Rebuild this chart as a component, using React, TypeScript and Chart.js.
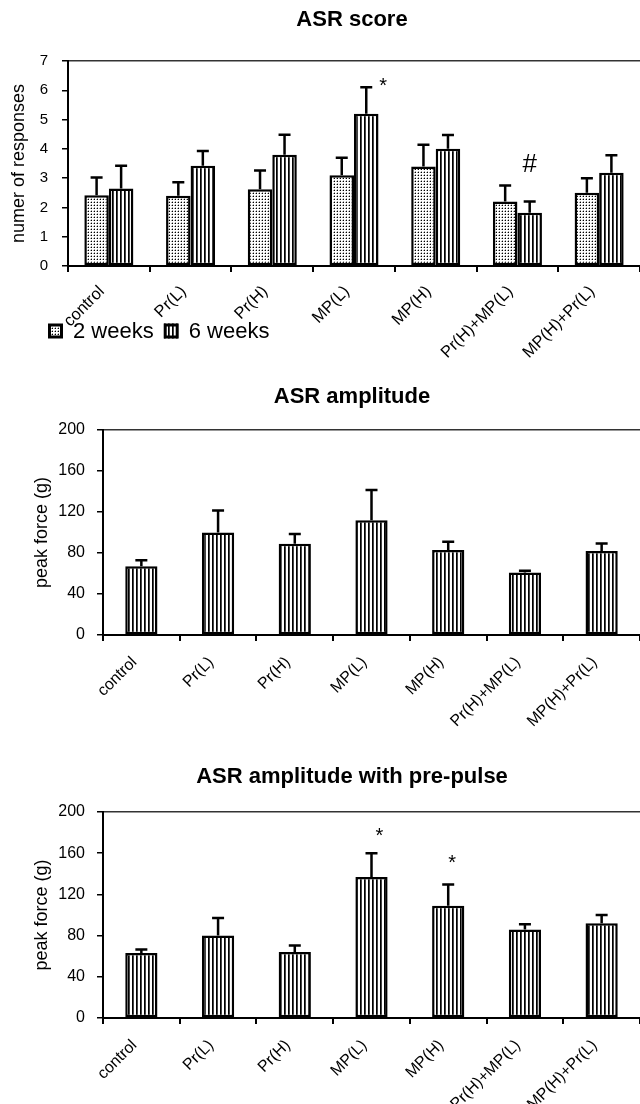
import React, { useEffect, useRef } from 'react';
import { Chart, registerables } from 'chart.js';

Chart.register(...registerables);

// ---------- data ----------
const categories = ['control', 'Pr(L)', 'Pr(H)', 'MP(L)', 'MP(H)', 'Pr(H)+MP(L)', 'MP(H)+Pr(L)'];

const scoreTitle = 'ASR score';
const scoreAxisTitle = 'numer of responses';
const scoreSeriesNames = ['2 weeks', '6 weeks'];
const score2w = [2.42, 2.4, 2.62, 3.1, 3.4, 2.2, 2.5];
const score2wErr = [0.6, 0.46, 0.64, 0.6, 0.74, 0.55, 0.5];
const score6w = [2.65, 3.42, 3.8, 5.2, 4.0, 1.82, 3.18];
const score6wErr = [0.77, 0.51, 0.68, 0.9, 0.47, 0.38, 0.6];
const score6wMarks = ['', '', '', '*', '', '#', ''];
const scoreMax = 7;
const scoreStep = 1;

const ampTitle = 'ASR amplitude';
const ampValues = [67, 100, 89, 112, 83, 61, 82];
const ampErr = [6, 21.5, 9.5, 29.5, 8, 1.8, 7.2];

const ppTitle = 'ASR amplitude with pre-pulse';
const ppValues = [63, 80, 64, 137, 109, 86, 92];
const ppErr = [3.5, 17, 6.5, 23, 20.5, 5, 8];
const ppMarks = ['', '', '', '*', '*', '', ''];

const forceAxisTitle = 'peak force (g)';
const forceMax = 200;
const forceStep = 40;

const FONT = "'Liberation Sans', Arial, sans-serif";
Chart.defaults.font.family = FONT;
Chart.defaults.color = '#000';

// ---------- patterns ----------
function makeDots(): CanvasPattern {
  const c = document.createElement('canvas');
  c.width = 3;
  c.height = 3;
  const g = c.getContext('2d')!;
  g.fillStyle = '#fff';
  g.fillRect(0, 0, 3, 3);
  g.fillStyle = '#000';
  g.fillRect(1, 1, 1, 1);
  g.fillStyle = '#aaa';
  g.fillRect(0, 1, 1, 1);
  g.fillRect(1, 0, 1, 1);
  return g.createPattern(c, 'repeat')!;
}

function makeStripes(): CanvasPattern {
  const c = document.createElement('canvas');
  c.width = 4;
  c.height = 1;
  const g = c.getContext('2d')!;
  g.fillStyle = '#fff';
  g.fillRect(0, 0, 4, 1);
  g.fillStyle = '#000';
  g.fillRect(0, 0, 1, 1);
  g.fillStyle = '#444';
  g.fillRect(1, 0, 1, 1);
  return g.createPattern(c, 'repeat')!;
}

// ---------- plugins ----------
const panelTitlePlugin = {
  id: 'panelTitle',
  afterDraw(chart: any, _a: any, opts: any) {
    const { ctx } = chart;
    ctx.save();
    ctx.font = `bold ${opts.size}px ${FONT}`;
    ctx.fillStyle = '#000';
    ctx.textAlign = 'center';
    ctx.textBaseline = 'middle';
    ctx.fillText(opts.text, opts.x, opts.y);
    ctx.restore();
  },
};

const errorBarPlugin = {
  id: 'errorBars',
  afterDatasetsDraw(chart: any, _a: any, opts: any) {
    const { ctx } = chart;
    const yScale = chart.scales.y;
    chart.data.datasets.forEach((ds: any, di: number) => {
      const meta = chart.getDatasetMeta(di);
      meta.data.forEach((bar: any, i: number) => {
        const v = ds.data[i];
        const e = ds.errors ? ds.errors[i] : 0;
        const top = yScale.getPixelForValue(v + e);
        ctx.save();
        ctx.strokeStyle = '#000';
        ctx.lineWidth = opts.lineWidth;
        ctx.beginPath();
        ctx.moveTo(bar.x, bar.y);
        ctx.lineTo(bar.x, top);
        ctx.moveTo(bar.x - opts.cap / 2, top);
        ctx.lineTo(bar.x + opts.cap / 2, top);
        ctx.stroke();
        const mark = ds.marks ? ds.marks[i] : '';
        if (mark) {
          const st = (opts.markStyle && opts.markStyle[i]) || { dx: 0, dy: -10, size: 20 };
          ctx.fillStyle = '#000';
          ctx.font = `${st.size}px ${FONT}`;
          ctx.textAlign = 'center';
          ctx.textBaseline = 'alphabetic';
          ctx.fillText(mark, bar.x + st.dx, top + st.dy);
        }
        ctx.restore();
      });
    });
  },
};

const patternLegendPlugin = {
  id: 'patternLegend',
  afterDraw(chart: any, _a: any, opts: any) {
    if (!opts || !opts.display) return;
    const { ctx } = chart;
    ctx.save();
    ctx.font = `${opts.size}px ${FONT}`;
    ctx.textBaseline = 'middle';
    ctx.textAlign = 'left';
    let x = opts.x;
    const y = opts.y;
    const box = opts.box;
    chart.data.datasets.forEach((ds: any) => {
      ctx.fillStyle = ds.backgroundColor;
      ctx.fillRect(x, y - box / 2, box, box);
      ctx.strokeStyle = '#000';
      ctx.lineWidth = 3;
      ctx.strokeRect(x + 1.5, y - box / 2 + 1.5, box - 3, box - 3);
      x += box + 10;
      ctx.fillStyle = '#000';
      ctx.fillText(ds.label, x, y + 1);
      x += ctx.measureText(ds.label).width + 10;
    });
    ctx.restore();
  },
};

// ---------- config builder ----------
function buildConfig(p: {
  datasets: any[];
  yMax: number;
  yStep: number;
  yTitle: string;
  yTitleSize: number;
  yTitlePad: number;
  yTickSize: number;
  yTickPad: number;
  yWidth: number;
  top: number;
  xHeight: number;
  xFont: number;
  xPad: number;
  title: string;
  titleY: number;
  markStyle?: any;
  legend?: any;
}): any {
  return {
    type: 'bar',
    data: { labels: categories, datasets: p.datasets },
    plugins: [panelTitlePlugin, errorBarPlugin, patternLegendPlugin],
    options: {
      responsive: false,
      animation: false,
      devicePixelRatio: 1,
      layout: { padding: { top: p.top, left: 0, right: 0, bottom: 0 } },
      plugins: {
        legend: { display: false },
        tooltip: { enabled: false },
        title: { display: false },
        panelTitle: { text: p.title, x: 352, y: p.titleY, size: 22 },
        errorBars: { lineWidth: 2.5, cap: 12, markStyle: p.markStyle },
        patternLegend: p.legend || { display: false },
      },
      scales: {
        x: {
          offset: true,
          grid: {
            offset: true,
            drawOnChartArea: false,
            drawTicks: true,
            tickLength: 6,
            color: '#000',
            tickColor: '#000',
            lineWidth: 2,
          },
          border: { display: true, color: '#000', width: 2 },
          ticks: {
            autoSkip: false,
            maxRotation: 45,
            minRotation: 45,
            padding: p.xPad,
            labelOffset: -7,
            color: '#000',
            font: { size: p.xFont },
          },
          afterFit(scale: any) {
            scale.height = p.xHeight;
          },
        },
        y: {
          min: 0,
          max: p.yMax,
          ticks: {
            stepSize: p.yStep,
            padding: p.yTickPad,
            color: '#000',
            font: { size: p.yTickSize },
          },
          grid: {
            drawTicks: true,
            tickLength: 6,
            tickColor: '#000',
            lineWidth: 1.5,
            color: (ctx: any) => (ctx.tick && ctx.tick.value === p.yMax ? '#333' : 'rgba(0,0,0,0)'),
          },
          border: { display: true, color: '#000', width: 2 },
          title: {
            display: true,
            text: p.yTitle,
            color: '#000',
            font: { size: p.yTitleSize },
            padding: { top: p.yTitlePad, bottom: 0 },
          },
          afterFit(scale: any) {
            scale.width = p.yWidth;
          },
        },
      },
    },
  };
}

export default function App() {
  const r1 = useRef<HTMLCanvasElement>(null);
  const r2 = useRef<HTMLCanvasElement>(null);
  const r3 = useRef<HTMLCanvasElement>(null);

  useEffect(() => {
    const dots = makeDots();
    const stripes = makeStripes();
    const barStyle = { borderColor: '#000', borderWidth: 2.5, borderSkipped: false };

    const c1 = new Chart(
      r1.current!,
      buildConfig({
        datasets: [
          {
            label: scoreSeriesNames[0],
            data: score2w,
            errors: score2wErr,
            backgroundColor: dots,
            categoryPercentage: 0.6,
            barPercentage: 1,
            ...barStyle,
          },
          {
            label: scoreSeriesNames[1],
            data: score6w,
            errors: score6wErr,
            marks: score6wMarks,
            backgroundColor: stripes,
            categoryPercentage: 0.6,
            barPercentage: 1,
            ...barStyle,
          },
        ],
        yMax: scoreMax,
        yStep: scoreStep,
        yTitle: scoreAxisTitle,
        yTitleSize: 18,
        yTitlePad: 8,
        yTickSize: 15,
        yTickPad: 14,
        yWidth: 68,
        top: 61,
        xHeight: 370 - 266,
        xFont: 16.5,
        xPad: 10,
        title: scoreTitle,
        titleY: 20,
        markStyle: { 3: { dx: 17, dy: 5, size: 20 }, 5: { dx: 0, dy: -30, size: 26 } },
        legend: { display: true, x: 48, y: 331, box: 15, size: 22 },
      }) as any
    );

    const c2 = new Chart(
      r2.current!,
      buildConfig({
        datasets: [
          {
            label: ampTitle,
            data: ampValues,
            errors: ampErr,
            backgroundColor: stripes,
            categoryPercentage: 0.42,
            barPercentage: 1,
            ...barStyle,
          },
        ],
        yMax: forceMax,
        yStep: forceStep,
        yTitle: forceAxisTitle,
        yTitleSize: 18,
        yTitlePad: 31,
        yTickSize: 16,
        yTickPad: 12,
        yWidth: 103,
        top: 60,
        xHeight: 380 - 265,
        xFont: 16,
        xPad: 12,
        title: ampTitle,
        titleY: 27,
      }) as any
    );

    const c3 = new Chart(
      r3.current!,
      buildConfig({
        datasets: [
          {
            label: ppTitle,
            data: ppValues,
            errors: ppErr,
            marks: ppMarks,
            backgroundColor: stripes,
            categoryPercentage: 0.42,
            barPercentage: 1,
            ...barStyle,
          },
        ],
        yMax: forceMax,
        yStep: forceStep,
        yTitle: forceAxisTitle,
        yTitleSize: 18,
        yTitlePad: 31,
        yTickSize: 16,
        yTickPad: 12,
        yWidth: 103,
        top: 62,
        xHeight: 354 - 268,
        xFont: 16,
        xPad: 12,
        title: ppTitle,
        titleY: 27,
        markStyle: { 3: { dx: 8, dy: -11, size: 20 }, 4: { dx: 4, dy: -16, size: 20 } },
      }) as any
    );

    return () => {
      c1.destroy();
      c2.destroy();
      c3.destroy();
    };
  }, []);

  return (
    <div style={{ position: 'absolute', left: 0, top: 0, width: 640, height: 1104, background: '#fff' }}>
      <canvas ref={r1} width={640} height={370} style={{ position: 'absolute', left: 0, top: 0 }} />
      <canvas ref={r2} width={640} height={380} style={{ position: 'absolute', left: 0, top: 370 }} />
      <canvas ref={r3} width={640} height={354} style={{ position: 'absolute', left: 0, top: 750 }} />
    </div>
  );
}
